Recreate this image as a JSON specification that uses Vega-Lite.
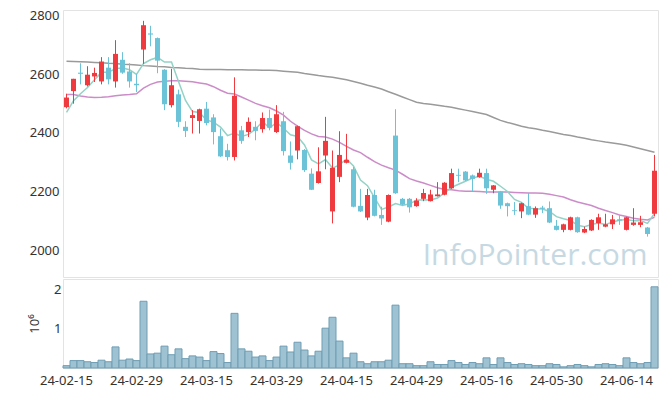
{
"$schema": "https://vega.github.io/schema/vega-lite/v6.json",
"background": "white",
"padding": {"left": 28, "top": 9, "right": 8, "bottom": 5},
"spacing": 0,
"resolve": {"scale": {"x": "shared"}},
"config": {
  "view": {"stroke": "#e3e3e3"},
  "axis": {"labelFont": "Noto Sans", "labelFontSize": 13, "labelColor": "#333333", "titleFont": "Noto Sans", "grid": false, "domain": false, "ticks": false}
},
"datasets": {"p": [
{"d":"24-02-15","o":2488,"h":2534,"l":2484,"c":2521,"v":60000,"ma5":2470,"ma20":2531,"ma60":2645},
{"d":"24-02-16","o":2543,"h":2585,"l":2500,"c":2585,"v":190000,"ma5":2510,"ma20":2531,"ma60":2644},
{"d":"24-02-19","o":2606,"h":2638,"l":2566,"c":2602,"v":190000,"ma5":2534,"ma20":2526,"ma60":2643},
{"d":"24-02-20","o":2563,"h":2628,"l":2559,"c":2599,"v":160000,"ma5":2555,"ma20":2523,"ma60":2642},
{"d":"24-02-21","o":2593,"h":2623,"l":2574,"c":2605,"v":140000,"ma5":2582,"ma20":2521,"ma60":2641},
{"d":"24-02-22","o":2576,"h":2659,"l":2566,"c":2644,"v":200000,"ma5":2607,"ma20":2522,"ma60":2640},
{"d":"24-02-23","o":2623,"h":2659,"l":2566,"c":2583,"v":160000,"ma5":2607,"ma20":2524,"ma60":2638},
{"d":"24-02-26","o":2576,"h":2717,"l":2555,"c":2670,"v":540000,"ma5":2620,"ma20":2527,"ma60":2637},
{"d":"24-02-27","o":2650,"h":2676,"l":2602,"c":2606,"v":200000,"ma5":2622,"ma20":2530,"ma60":2635},
{"d":"24-02-28","o":2610,"h":2638,"l":2555,"c":2576,"v":230000,"ma5":2616,"ma20":2531,"ma60":2634},
{"d":"24-02-29","o":2568,"h":2602,"l":2540,"c":2563,"v":190000,"ma5":2600,"ma20":2534,"ma60":2632},
{"d":"24-03-04","o":2685,"h":2783,"l":2636,"c":2768,"v":1710000,"ma5":2637,"ma20":2553,"ma60":2630},
{"d":"24-03-05","o":2740,"h":2766,"l":2696,"c":2736,"v":360000,"ma5":2650,"ma20":2566,"ma60":2629},
{"d":"24-03-06","o":2724,"h":2726,"l":2604,"c":2647,"v":380000,"ma5":2658,"ma20":2574,"ma60":2627},
{"d":"24-03-07","o":2616,"h":2618,"l":2478,"c":2498,"v":560000,"ma5":2642,"ma20":2577,"ma60":2626},
{"d":"24-03-08","o":2495,"h":2619,"l":2487,"c":2563,"v":340000,"ma5":2642,"ma20":2578,"ma60":2624},
{"d":"24-03-11","o":2532,"h":2548,"l":2420,"c":2438,"v":490000,"ma5":2576,"ma20":2578,"ma60":2623},
{"d":"24-03-12","o":2421,"h":2440,"l":2386,"c":2407,"v":240000,"ma5":2511,"ma20":2577,"ma60":2621},
{"d":"24-03-13","o":2451,"h":2478,"l":2398,"c":2461,"v":310000,"ma5":2473,"ma20":2575,"ma60":2620},
{"d":"24-03-14","o":2441,"h":2483,"l":2398,"c":2481,"v":280000,"ma5":2470,"ma20":2571,"ma60":2618},
{"d":"24-03-15","o":2483,"h":2506,"l":2426,"c":2434,"v":190000,"ma5":2444,"ma20":2567,"ma60":2617},
{"d":"24-03-18","o":2453,"h":2464,"l":2361,"c":2403,"v":420000,"ma5":2437,"ma20":2558,"ma60":2617},
{"d":"24-03-19","o":2389,"h":2415,"l":2318,"c":2320,"v":370000,"ma5":2420,"ma20":2546,"ma60":2617},
{"d":"24-03-20","o":2341,"h":2363,"l":2306,"c":2318,"v":140000,"ma5":2391,"ma20":2536,"ma60":2616},
{"d":"24-03-21","o":2318,"h":2590,"l":2306,"c":2527,"v":1400000,"ma5":2400,"ma20":2533,"ma60":2616},
{"d":"24-03-22","o":2409,"h":2424,"l":2363,"c":2373,"v":490000,"ma5":2388,"ma20":2523,"ma60":2616},
{"d":"24-03-25","o":2403,"h":2453,"l":2386,"c":2438,"v":430000,"ma5":2395,"ma20":2512,"ma60":2615},
{"d":"24-03-26","o":2421,"h":2440,"l":2375,"c":2407,"v":280000,"ma5":2413,"ma20":2501,"ma60":2615},
{"d":"24-03-27","o":2413,"h":2470,"l":2401,"c":2451,"v":310000,"ma5":2439,"ma20":2493,"ma60":2614},
{"d":"24-03-28","o":2451,"h":2480,"l":2409,"c":2418,"v":190000,"ma5":2417,"ma20":2486,"ma60":2614},
{"d":"24-03-29","o":2403,"h":2495,"l":2400,"c":2464,"v":280000,"ma5":2436,"ma20":2475,"ma60":2613},
{"d":"24-04-01","o":2440,"h":2472,"l":2323,"c":2338,"v":560000,"ma5":2416,"ma20":2461,"ma60":2611},
{"d":"24-04-02","o":2323,"h":2371,"l":2275,"c":2298,"v":410000,"ma5":2394,"ma20":2440,"ma60":2609},
{"d":"24-04-03","o":2340,"h":2425,"l":2310,"c":2423,"v":660000,"ma5":2388,"ma20":2423,"ma60":2607},
{"d":"24-04-04","o":2342,"h":2345,"l":2267,"c":2273,"v":460000,"ma5":2359,"ma20":2409,"ma60":2603},
{"d":"24-04-05","o":2261,"h":2279,"l":2205,"c":2206,"v":310000,"ma5":2308,"ma20":2397,"ma60":2600},
{"d":"24-04-08","o":2229,"h":2351,"l":2227,"c":2269,"v":430000,"ma5":2294,"ma20":2388,"ma60":2596},
{"d":"24-04-09","o":2323,"h":2455,"l":2276,"c":2373,"v":1020000,"ma5":2309,"ma20":2386,"ma60":2593},
{"d":"24-04-11","o":2132,"h":2340,"l":2091,"c":2281,"v":1300000,"ma5":2280,"ma20":2379,"ma60":2590},
{"d":"24-04-12","o":2250,"h":2406,"l":2232,"c":2325,"v":690000,"ma5":2291,"ma20":2368,"ma60":2586},
{"d":"24-04-15","o":2298,"h":2397,"l":2296,"c":2308,"v":260000,"ma5":2311,"ma20":2354,"ma60":2582},
{"d":"24-04-16","o":2276,"h":2284,"l":2146,"c":2148,"v":380000,"ma5":2287,"ma20":2342,"ma60":2576},
{"d":"24-04-17","o":2151,"h":2209,"l":2130,"c":2132,"v":160000,"ma5":2239,"ma20":2333,"ma60":2570},
{"d":"24-04-18","o":2111,"h":2209,"l":2102,"c":2188,"v":110000,"ma5":2220,"ma20":2317,"ma60":2563},
{"d":"24-04-19","o":2188,"h":2206,"l":2115,"c":2117,"v":160000,"ma5":2179,"ma20":2302,"ma60":2557},
{"d":"24-04-22","o":2120,"h":2148,"l":2086,"c":2108,"v":160000,"ma5":2139,"ma20":2290,"ma60":2550},
{"d":"24-04-23","o":2097,"h":2190,"l":2095,"c":2188,"v":200000,"ma5":2147,"ma20":2281,"ma60":2541},
{"d":"24-04-24","o":2391,"h":2481,"l":2192,"c":2194,"v":1610000,"ma5":2159,"ma20":2273,"ma60":2532},
{"d":"24-04-25","o":2175,"h":2178,"l":2152,"c":2155,"v":110000,"ma5":2152,"ma20":2259,"ma60":2523},
{"d":"24-04-26","o":2175,"h":2178,"l":2128,"c":2146,"v":110000,"ma5":2158,"ma20":2244,"ma60":2514},
{"d":"24-04-29","o":2150,"h":2177,"l":2148,"c":2169,"v":60000,"ma5":2170,"ma20":2236,"ma60":2505},
{"d":"24-04-30","o":2175,"h":2209,"l":2167,"c":2195,"v":60000,"ma5":2172,"ma20":2229,"ma60":2501},
{"d":"24-05-02","o":2167,"h":2206,"l":2166,"c":2190,"v":160000,"ma5":2171,"ma20":2221,"ma60":2498},
{"d":"24-05-03","o":2184,"h":2232,"l":2183,"c":2190,"v":90000,"ma5":2178,"ma20":2213,"ma60":2495},
{"d":"24-05-07","o":2189,"h":2232,"l":2187,"c":2230,"v":90000,"ma5":2195,"ma20":2207,"ma60":2491},
{"d":"24-05-08","o":2211,"h":2278,"l":2209,"c":2263,"v":190000,"ma5":2214,"ma20":2206,"ma60":2488},
{"d":"24-05-09","o":2257,"h":2278,"l":2232,"c":2254,"v":140000,"ma5":2225,"ma20":2203,"ma60":2483},
{"d":"24-05-10","o":2268,"h":2270,"l":2236,"c":2238,"v":90000,"ma5":2235,"ma20":2201,"ma60":2478},
{"d":"24-05-13","o":2255,"h":2258,"l":2201,"c":2243,"v":140000,"ma5":2246,"ma20":2201,"ma60":2473},
{"d":"24-05-14","o":2249,"h":2278,"l":2247,"c":2264,"v":110000,"ma5":2252,"ma20":2200,"ma60":2468},
{"d":"24-05-16","o":2263,"h":2278,"l":2192,"c":2211,"v":260000,"ma5":2242,"ma20":2198,"ma60":2463},
{"d":"24-05-17","o":2206,"h":2222,"l":2194,"c":2221,"v":90000,"ma5":2235,"ma20":2198,"ma60":2453},
{"d":"24-05-20","o":2200,"h":2202,"l":2141,"c":2152,"v":260000,"ma5":2218,"ma20":2198,"ma60":2443},
{"d":"24-05-21","o":2160,"h":2162,"l":2115,"c":2150,"v":140000,"ma5":2200,"ma20":2198,"ma60":2436},
{"d":"24-05-22","o":2136,"h":2164,"l":2120,"c":2133,"v":90000,"ma5":2173,"ma20":2197,"ma60":2430},
{"d":"24-05-23","o":2132,"h":2162,"l":2109,"c":2160,"v":110000,"ma5":2163,"ma20":2196,"ma60":2423},
{"d":"24-05-24","o":2150,"h":2195,"l":2119,"c":2121,"v":90000,"ma5":2143,"ma20":2195,"ma60":2418},
{"d":"24-05-27","o":2121,"h":2149,"l":2110,"c":2143,"v":60000,"ma5":2141,"ma20":2195,"ma60":2414},
{"d":"24-05-28","o":2145,"h":2151,"l":2126,"c":2141,"v":60000,"ma5":2140,"ma20":2194,"ma60":2409},
{"d":"24-05-29","o":2143,"h":2166,"l":2092,"c":2094,"v":110000,"ma5":2132,"ma20":2191,"ma60":2405},
{"d":"24-05-30","o":2083,"h":2103,"l":2067,"c":2069,"v":90000,"ma5":2114,"ma20":2186,"ma60":2400},
{"d":"24-05-31","o":2069,"h":2090,"l":2061,"c":2088,"v":30000,"ma5":2107,"ma20":2181,"ma60":2395},
{"d":"24-06-03","o":2069,"h":2114,"l":2067,"c":2112,"v":60000,"ma5":2101,"ma20":2172,"ma60":2391},
{"d":"24-06-04","o":2112,"h":2114,"l":2059,"c":2061,"v":90000,"ma5":2085,"ma20":2164,"ma60":2386},
{"d":"24-06-05","o":2060,"h":2080,"l":2058,"c":2072,"v":60000,"ma5":2080,"ma20":2158,"ma60":2382},
{"d":"24-06-07","o":2067,"h":2105,"l":2065,"c":2103,"v":30000,"ma5":2087,"ma20":2152,"ma60":2377},
{"d":"24-06-10","o":2092,"h":2124,"l":2069,"c":2112,"v":90000,"ma5":2092,"ma20":2143,"ma60":2373},
{"d":"24-06-11","o":2080,"h":2124,"l":2078,"c":2088,"v":110000,"ma5":2087,"ma20":2135,"ma60":2369},
{"d":"24-06-12","o":2088,"h":2120,"l":2072,"c":2105,"v":90000,"ma5":2096,"ma20":2128,"ma60":2366},
{"d":"24-06-13","o":2105,"h":2120,"l":2086,"c":2101,"v":60000,"ma5":2102,"ma20":2120,"ma60":2362},
{"d":"24-06-14","o":2069,"h":2114,"l":2067,"c":2112,"v":260000,"ma5":2104,"ma20":2115,"ma60":2358},
{"d":"24-06-17","o":2086,"h":2143,"l":2083,"c":2094,"v":140000,"ma5":2100,"ma20":2109,"ma60":2352},
{"d":"24-06-18","o":2086,"h":2117,"l":2078,"c":2095,"v":110000,"ma5":2101,"ma20":2105,"ma60":2346},
{"d":"24-06-19","o":2077,"h":2079,"l":2046,"c":2055,"v":140000,"ma5":2091,"ma20":2103,"ma60":2340},
{"d":"24-06-20","o":2124,"h":2325,"l":2115,"c":2271,"v":2080000,"ma5":2125,"ma20":2112,"ma60":2334}
]},
"vconcat": [
  {
    "width": 595, "height": 267,
    "data": {"name": "p"},
    "encoding": {"x": {"field": "d", "type": "ordinal", "sort": "ascending", "scale": {"paddingInner": 0, "paddingOuter": 0}, "axis": null}},
    "layer": [
      {"data": {"values": [{"t": "InfoPointer.com"}]},
       "mark": {"type": "text", "align": "right", "baseline": "middle", "fontSize": 30, "font": "Open Sans", "color": "#c6d9e3"},
       "encoding": {"x": {"datum": "24-06-19", "type": "ordinal"}, "y": {"datum": 1980, "type": "quantitative"}, "text": {"field": "t"}}},
      {"mark": {"type": "line", "color": "#9a9a9a", "strokeWidth": 1.5},
       "encoding": {"y": {"field": "ma60", "type": "quantitative", "scale": {"domain": [1908, 2820], "zero": false, "nice": false}, "axis": {"values": [2000, 2200, 2400, 2600, 2800], "format": "d", "title": null, "labelPadding": 4}}}},
      {"mark": {"type": "line", "color": "#cc8cc8", "strokeWidth": 1.5},
       "encoding": {"y": {"field": "ma20", "type": "quantitative"}}},
      {"mark": {"type": "line", "color": "#93d2c6", "strokeWidth": 1.5},
       "encoding": {"y": {"field": "ma5", "type": "quantitative"}}},
      {"mark": {"type": "rule", "strokeWidth": 1},
       "encoding": {"y": {"field": "l", "type": "quantitative"}, "y2": {"field": "h"},
         "color": {"condition": {"test": "datum.c >= datum.o", "value": "#ef3b3f"}, "value": "#6cc2d6"}}},
      {"mark": {"type": "bar", "width": 5},
       "encoding": {"y": {"field": "o", "type": "quantitative"}, "y2": {"field": "c"},
         "color": {"condition": {"test": "datum.c >= datum.o", "value": "#ef3b3f"}, "value": "#6cc2d6"}}}
    ]
  },
  {
    "width": 595, "height": 89,
    "data": {"name": "p"},
    "mark": {"type": "bar", "fill": "#9fc2d2", "stroke": "#6f9db3", "strokeWidth": 1},
    "encoding": {
      "x": {"field": "d", "type": "ordinal", "sort": "ascending", "scale": {"paddingInner": 0, "paddingOuter": 0},
        "axis": {"values": ["24-02-15","24-02-29","24-03-15","24-03-29","24-04-15","24-04-29","24-05-16","24-05-30","24-06-14"], "labelAngle": 0, "title": null, "labelPadding": 6}},
      "y": {"field": "v", "type": "quantitative", "scale": {"domain": [0, 2280000], "nice": false},
        "axis": {"values": [1000000, 2000000], "labelExpr": "datum.value / 1000000", "title": "10⁶", "titleFontSize": 13, "titleFontWeight": "normal", "titleColor": "#333333", "titlePadding": 12}}
    }
  }
]
}
